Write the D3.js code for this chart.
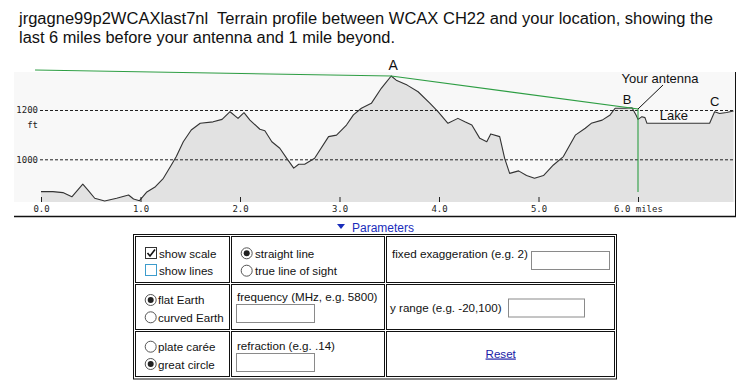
<!DOCTYPE html>
<html>
<head>
<meta charset="utf-8">
<script src="https://cdn.jsdelivr.net/npm/d3@7"></script>
<style>
  body { margin: 0; background: #fff; }
  svg { display: block; font-family: "Liberation Sans", Arial, sans-serif; }
  .title { white-space: pre; }
  .grid line { stroke: #222; stroke-dasharray: 3,2; }
  .grid text, .xaxis text { font-family: "DejaVu Sans Mono", monospace; font-size: 9px; fill: #222; }
  .xaxis line { stroke: #222; }
</style>
</head>
<body>
<script>
// terrain profile (miles from start, elevation ft)
const miles = [0.00,0.12,0.22,0.31,0.34,0.42,0.47,0.54,0.64,0.76,0.88,0.93,0.99,1.06,1.15,1.23,1.31,1.36,1.43,1.51,
  1.60,1.73,1.82,1.90,1.98,2.04,2.10,2.20,2.25,2.32,2.40,2.47,2.54,2.59,2.65,2.75,2.89,2.97,3.07,3.14,
  3.22,3.32,3.42,3.46,3.52,3.57,3.68,3.79,3.91,3.99,4.09,4.19,4.26,4.33,4.41,4.48,4.52,4.61,4.66,4.71,
  4.80,4.88,4.96,5.05,5.15,5.25,5.37,5.47,5.53,5.64,5.72,5.77,5.87,5.94,5.98,6.00,6.04,6.07,6.09,6.72,
  6.77,6.82,6.89,6.96]
const elevation = [869,869,865,848,862,899,876,842,831,842,855,839,832,866,889,923,977,1011,1071,1119,
  1146,1152,1162,1193,1166,1189,1159,1122,1116,1071,1045,1004,964,980,980,1004,1092,1098,1139,1180,
  1207,1227,1288,1308,1338,1321,1301,1274,1227,1193,1146,1166,1152,1139,1085,1071,1103,1092,1004,943,
  953,934,923,934,977,1011,1098,1126,1146,1159,1180,1207,1207,1209,1180,1162,1173,1169,1146,1146,
  1193,1186,1190,1196]

// line of sight: tangent over A, down to the antenna, then the mast
const sightMiles = [-0.06, 3.52, 6.00, 6.00]
const sightElev = [1362, 1338, 1204, 867]

const xTicks = [0, 1, 2, 3, 4, 5, 6]
const xTickLabels = ["0.0", "1.0", "2.0", "3.0", "4.0", "5.0", "6.0 miles"]
const yTicks = [1000, 1200]
const yTickLabels = ["1000", "1200"]

// point labels
const labelText = ["A", "B", "C", "Lake"]
const labelMiles = [3.54, 5.89, 6.77, 6.36]
const labelElev = [1362, 1224, 1216, 1159]

const title1 = "jrgagne99p2WCAXlast7nl  Terrain profile between WCAX CH22 and your location, showing the"
const title2 = "last 6 miles before your antenna and 1 mile beyond."

const data = miles.map((m, i) => ({mi: m, ft: elevation[i]}))
const sight = sightMiles.map((m, i) => ({mi: m, ft: sightElev[i]}))

const svg = d3.select("body").append("svg").attr("width", 744).attr("height", 386)

svg.append("text").attr("class", "title").attr("x", 19).attr("y", 23.5).attr("font-size", 16).attr("fill", "#111")
  .attr("textLength", 694).attr("lengthAdjust", "spacingAndGlyphs").text(title1)
svg.append("text").attr("class", "title").attr("x", 19).attr("y", 42.5).attr("font-size", 16).attr("fill", "#111")
  .attr("textLength", 376).attr("lengthAdjust", "spacingAndGlyphs").text(title2)

let x = d3.scaleLinear().domain([0, 6]).range([41, 638])
let y = d3.scaleLinear().domain([1000, 1200]).range([159.3, 110])
const plotBottom = 202

svg.append("rect").attr("x", 14).attr("y", 72).attr("width", 721).attr("height", plotBottom - 72)
  .attr("fill", "#f8f8f8")

svg.append("path").datum(data)
  .attr("fill", "#e2e2e2")
  .attr("d", d3.area().x(d => x(d.mi)).y0(plotBottom).y1(d => y(d.ft)))

let grid = svg.append("g").attr("class", "grid").attr("transform", "translate(40,0)")
  .call(d3.axisLeft(y).tickValues(yTicks).tickSize(-695).tickPadding(2)
    .tickFormat((d, i) => yTickLabels[i]))
grid.select(".domain").remove()
svg.append("text").attr("x", 38).attr("y", 128).attr("text-anchor", "end")
  .attr("font-family", "DejaVu Sans Mono, monospace").attr("font-size", 9).attr("fill", "#222").text("ft")

svg.append("path").datum(data)
  .attr("fill", "none").attr("stroke", "#333").attr("stroke-width", 1.1)
  .attr("stroke-linejoin", "round")
  .attr("d", d3.line().x(d => x(d.mi)).y(d => y(d.ft)))

let xa = svg.append("g").attr("class", "xaxis").attr("transform", "translate(0,197)")
  .call(d3.axisBottom(x).tickValues(xTicks).tickSize(5).tickPadding(4)
    .tickFormat((d, i) => xTickLabels[i]))
xa.select(".domain").remove()

svg.append("path").datum(sight)
  .attr("fill", "none").attr("stroke", "#2e9e44").attr("stroke-width", 1.1)
  .attr("d", d3.line().x(d => x(d.mi)).y(d => y(d.ft)))

// frame
svg.append("line").attr("x1", 14).attr("x2", 736).attr("y1", 216.5).attr("y2", 216.5)
  .attr("stroke", "#111").attr("stroke-width", 1.5)
svg.append("line").attr("x1", 735.5).attr("x2", 735.5).attr("y1", 72).attr("y2", 216)
  .attr("stroke", "#111")

labelText.forEach((t, i) => {
  svg.append("text").attr("x", x(labelMiles[i])).attr("y", y(labelElev[i]))
    .attr("text-anchor", "middle").attr("font-size", i == 0 ? 14 : 13).attr("fill", "#111").text(t)
})

// antenna callout
const ant = sight[2]
svg.append("text").attr("x", x(ant.mi) + 22).attr("y", 83).attr("text-anchor", "middle")
  .attr("font-size", 13).attr("fill", "#111").text("Your antenna")
svg.append("line").attr("x1", x(ant.mi) + 25).attr("y1", 85)
  .attr("x2", x(ant.mi)).attr("y2", y(ant.ft))
  .attr("stroke", "#111").attr("stroke-width", 1)

// Parameters panel
svg.append("path").attr("d", "M337,224 L345,224 L341,229 Z").attr("fill", "#1a2dbb")
svg.append("text").attr("x", 352).attr("y", 232).attr("font-size", 12).attr("fill", "#1a2dbb").text("Parameters")

const tbl = svg.append("g")
tbl.append("rect").attr("x", 133.5).attr("y", 234.5).attr("width", 483).attr("height", 144.5)
  .attr("fill", "none").attr("stroke", "#111")
const colX = [[135.5, 229.5], [231.5, 384.5], [386.5, 614.5]]
const rowY = [[236.5, 282.5], [284.5, 329.5], [331.5, 376.5]]
rowY.forEach(r => colX.forEach(c => {
  tbl.append("rect").attr("x", c[0]).attr("y", r[0]).attr("width", c[1] - c[0]).attr("height", r[1] - r[0])
    .attr("fill", "none").attr("stroke", "#111")
}))

function label(t, lx, ly, anchor) {
  return tbl.append("text").attr("x", lx).attr("y", ly).attr("font-size", 11.6).attr("fill", "#111")
    .attr("text-anchor", anchor || "start").text(t)
}
function radio(cx, cy, on) {
  tbl.append("circle").attr("cx", cx).attr("cy", cy).attr("r", 5.5)
    .attr("fill", "#fff").attr("stroke", "#555")
  if (on) tbl.append("circle").attr("cx", cx).attr("cy", cy).attr("r", 3).attr("fill", "#222")
}
function box(bx, by, on) {
  tbl.append("rect").attr("x", bx + 0.5).attr("y", by + 0.5).attr("width", 11).attr("height", 11)
    .attr("fill", "#fff").attr("stroke", on ? "#333" : "#3d9ccc")
  if (on) tbl.append("path").attr("d", `M${bx + 2.5},${by + 6} L${bx + 5},${by + 9} L${bx + 10},${by + 2.5}`)
    .attr("fill", "none").attr("stroke", "#111").attr("stroke-width", 1.6)
}
function input(ix, iy, w) {
  tbl.append("rect").attr("x", ix + 0.5).attr("y", iy + 0.5).attr("width", w).attr("height", 18)
    .attr("fill", "#fff").attr("stroke", "#8a8a8a")
}

box(145, 247, true); label("show scale", 159, 257.5)
box(145, 264, false); label("show lines", 159, 275)
radio(246.7, 253.3, true); label("straight line", 255, 257.5)
radio(246.7, 270.7, false); label("true line of sight", 255, 275)
label("fixed exaggeration (e.g. 2)", 392, 257.5).attr("textLength", 136).attr("lengthAdjust", "spacingAndGlyphs")
input(531, 251, 78)
radio(150.7, 300, true); label("flat Earth", 158, 304)
radio(150.7, 317.3, false); label("curved Earth", 158, 321.5)
label("frequency (MHz, e.g. 5800)", 237, 301); input(236, 304, 78)
label("y range (e.g. -20,100)", 390, 311.5); input(508, 298.5, 76)
radio(150.7, 346.7, false); label("plate carée", 158, 351)
radio(150.7, 364, true); label("great circle", 158, 368.5)
label("refraction (e.g. .14)", 237, 349.5); input(236, 353, 78)
label("Reset", 500.7, 357.5, "middle").attr("fill", "#1a1aa6").attr("text-decoration", "underline")
</script>
</body>
</html>
